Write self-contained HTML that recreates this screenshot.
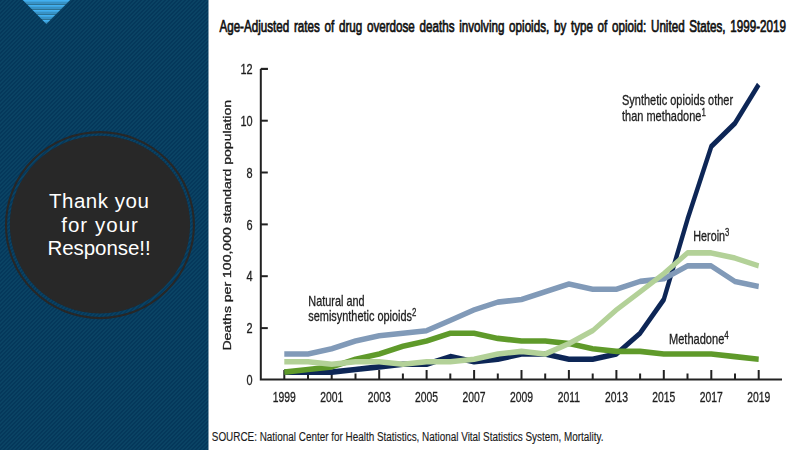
<!DOCTYPE html>
<html><head><meta charset="utf-8"><style>
html,body{margin:0;padding:0;}
body{width:800px;height:450px;overflow:hidden;position:relative;background:#083d5e;font-family:"Liberation Sans",sans-serif;}
.bg{position:absolute;left:0;top:0;width:800px;height:450px;background:repeating-linear-gradient(135deg,#05385b 0px,#05385b 1.6px,#0a4364 1.6px,#0a4364 2.83px);}
svg{position:absolute;left:0;top:0;}
</style></head><body>
<div class="bg"></div>
<svg width="800" height="450" viewBox="0 0 800 450">
<defs>
<pattern id="tri" patternUnits="userSpaceOnUse" x="0" y="0" width="10" height="5">
<rect x="0" y="0" width="10" height="5" fill="#3792c6"/>
<rect x="0" y="0" width="10" height="1.6" fill="#42b0f0"/>
<rect x="0" y="4" width="10" height="1" fill="#2c7396"/>
</pattern>
<filter id="bl" x="205" y="45" width="595" height="375" filterUnits="userSpaceOnUse"><feGaussianBlur stdDeviation="0.3"/></filter>
</defs>
<polygon points="22.7,0 70.2,0 46.3,24" fill="url(#tri)"/>
<ellipse cx="99.95" cy="225.1" rx="93.95" ry="93" fill="none" stroke="#272727" stroke-width="2.1"/>
<ellipse cx="99.95" cy="224.6" rx="90.15" ry="88.8" fill="#282828"/>
<g fill="#ffffff" font-size="20.5" font-family="Liberation Sans" text-anchor="middle">
<text x="98.9" y="208.4" textLength="100" lengthAdjust="spacing">Thank you</text>
<text x="99.55" y="231.8" textLength="76.7" lengthAdjust="spacing">for your</text>
<text x="99" y="254.8" textLength="103.2" lengthAdjust="spacing">Response!!</text>
</g>
<rect x="208.5" y="0" width="591.5" height="450" fill="#ffffff"/>
<g font-family="Liberation Sans" fill="#111111">
<text transform="translate(219.4,31.8) scale(0.728,1)" font-size="16" word-spacing="2" stroke="#111" stroke-width="0.7">Age-Adjusted rates of drug overdose deaths involving opioids, by type of opioid: United States, 1999-2019</text>
</g>
<g filter="url(#bl)">
<g stroke="#222222" stroke-width="2" fill="none">
<polyline points="260.8,68.9 260.8,379.5 782,379.5" stroke-linejoin="miter"/>
<line x1="260.8" y1="68.9" x2="267.8" y2="68.9"/>
<line x1="260.8" y1="328.1" x2="267.8" y2="328.1" /><line x1="260.8" y1="276.2" x2="267.8" y2="276.2" /><line x1="260.8" y1="224.4" x2="267.8" y2="224.4" /><line x1="260.8" y1="172.5" x2="267.8" y2="172.5" /><line x1="260.8" y1="120.7" x2="267.8" y2="120.7" /><line x1="260.8" y1="68.9" x2="267.8" y2="68.9" />
<line x1="284.3" y1="370.0" x2="284.3" y2="379.5" /><line x1="308.0" y1="373.5" x2="308.0" y2="379.5" /><line x1="331.7" y1="370.0" x2="331.7" y2="379.5" /><line x1="355.5" y1="373.5" x2="355.5" y2="379.5" /><line x1="379.2" y1="370.0" x2="379.2" y2="379.5" /><line x1="402.9" y1="373.5" x2="402.9" y2="379.5" /><line x1="426.6" y1="370.0" x2="426.6" y2="379.5" /><line x1="450.3" y1="373.5" x2="450.3" y2="379.5" /><line x1="474.1" y1="370.0" x2="474.1" y2="379.5" /><line x1="497.8" y1="373.5" x2="497.8" y2="379.5" /><line x1="521.5" y1="370.0" x2="521.5" y2="379.5" /><line x1="545.2" y1="373.5" x2="545.2" y2="379.5" /><line x1="568.9" y1="370.0" x2="568.9" y2="379.5" /><line x1="592.7" y1="373.5" x2="592.7" y2="379.5" /><line x1="616.4" y1="370.0" x2="616.4" y2="379.5" /><line x1="640.1" y1="373.5" x2="640.1" y2="379.5" /><line x1="663.8" y1="370.0" x2="663.8" y2="379.5" /><line x1="687.5" y1="373.5" x2="687.5" y2="379.5" /><line x1="711.3" y1="370.0" x2="711.3" y2="379.5" /><line x1="735.0" y1="373.5" x2="735.0" y2="379.5" /><line x1="758.7" y1="370.0" x2="758.7" y2="379.5" />
</g>
<g fill="none" stroke-width="5.6" stroke-linejoin="round" stroke-linecap="butt" transform="scale(0.77,1)">
<polyline points="369.22,372.1 400.03,372.1 430.83,372.1 461.64,369.5 492.44,366.9 523.25,364.3 554.05,364.3 584.86,356.6 615.66,361.8 646.47,359.2 677.27,354.0 708.08,354.0 738.88,359.2 769.69,359.2 800.49,354.0 831.30,333.2 862.10,299.5 892.91,219.2 923.71,146.6 954.52,123.3 985.32,84.4" stroke="#0b2657"/>
<polyline points="369.22,354.0 400.03,354.0 430.83,348.8 461.64,341.0 492.44,335.8 523.25,333.2 554.05,330.7 584.86,320.3 615.66,309.9 646.47,302.1 677.27,299.5 708.08,291.8 738.88,284.0 769.69,289.2 800.49,289.2 831.30,281.4 862.10,278.8 892.91,265.9 923.71,265.9 954.52,281.4 985.32,286.6" stroke="#819ab8"/>
<polyline points="369.22,372.1 400.03,369.5 430.83,366.9 461.64,359.2 492.44,354.0 523.25,346.2 554.05,341.0 584.86,333.2 615.66,333.2 646.47,338.4 677.27,341.0 708.08,341.0 738.88,343.6 769.69,348.8 800.49,351.4 831.30,351.4 862.10,354.0 892.91,354.0 923.71,354.0 954.52,356.6 985.32,359.2" stroke="#5f9a2b"/>
<polyline points="369.22,361.8 400.03,361.8 430.83,364.3 461.64,361.8 492.44,361.8 523.25,364.3 554.05,361.8 584.86,361.8 615.66,359.2 646.47,354.0 677.27,351.4 708.08,354.0 738.88,343.6 769.69,330.7 800.49,309.9 831.30,291.8 862.10,273.6 892.91,252.9 923.71,252.9 954.52,258.1 985.32,265.9" stroke="#b3d198"/>
</g>
<g font-family="Liberation Sans" fill="#1e1e1e" font-size="14" stroke="#1e1e1e" stroke-width="0.3">
<text transform="translate(252.6,385.0) scale(0.78,1)" text-anchor="end">0</text><text transform="translate(252.6,333.2) scale(0.78,1)" text-anchor="end">2</text><text transform="translate(252.6,281.3) scale(0.78,1)" text-anchor="end">4</text><text transform="translate(252.6,229.5) scale(0.78,1)" text-anchor="end">6</text><text transform="translate(252.6,177.6) scale(0.78,1)" text-anchor="end">8</text><text transform="translate(252.6,125.8) scale(0.78,1)" text-anchor="end">10</text><text transform="translate(252.6,74.0) scale(0.78,1)" text-anchor="end">12</text>
</g>
<g font-family="Liberation Sans" fill="#1e1e1e" font-size="14" stroke="#1e1e1e" stroke-width="0.3">
<text transform="translate(284.3,402.2) scale(0.74,1)" text-anchor="middle">1999</text><text transform="translate(331.7,402.2) scale(0.74,1)" text-anchor="middle">2001</text><text transform="translate(379.2,402.2) scale(0.74,1)" text-anchor="middle">2003</text><text transform="translate(426.6,402.2) scale(0.74,1)" text-anchor="middle">2005</text><text transform="translate(474.1,402.2) scale(0.74,1)" text-anchor="middle">2007</text><text transform="translate(521.5,402.2) scale(0.74,1)" text-anchor="middle">2009</text><text transform="translate(568.9,402.2) scale(0.74,1)" text-anchor="middle">2011</text><text transform="translate(616.4,402.2) scale(0.74,1)" text-anchor="middle">2013</text><text transform="translate(663.8,402.2) scale(0.74,1)" text-anchor="middle">2015</text><text transform="translate(711.3,402.2) scale(0.74,1)" text-anchor="middle">2017</text><text transform="translate(758.7,402.2) scale(0.74,1)" text-anchor="middle">2019</text>
<text transform="translate(308.3,306.2) scale(0.778,1)">Natural and</text>
<text transform="translate(308.3,321.1) scale(0.78,1)">semisynthetic opioids<tspan font-size="10" dy="-5">2</tspan></text>
<text transform="translate(622,104.9) scale(0.785,1)">Synthetic opioids other</text>
<text transform="translate(622,120.7) scale(0.785,1)">than methadone<tspan font-size="10" dy="-5">1</tspan></text>
<text transform="translate(693.3,240.6) scale(0.77,1)">Heroin<tspan font-size="10" dy="-5">3</tspan></text>
<text transform="translate(669,343.8) scale(0.79,1)">Methadone<tspan font-size="10" dy="-5">4</tspan></text>
<text transform="translate(231.3,350.6) rotate(-90) scale(1,0.8)" font-size="14.05" stroke-width="0.4">Deaths per 100,000 standard population</text>
</g>
</g>
<text transform="translate(211.8,441) scale(0.735,1)" font-family="Liberation Sans" font-size="13.5" stroke="#1a1a1a" stroke-width="0.15" fill="#1a1a1a">SOURCE: National Center for Health Statistics, National Vital Statistics System, Mortality.</text>
</svg>
</body></html>
